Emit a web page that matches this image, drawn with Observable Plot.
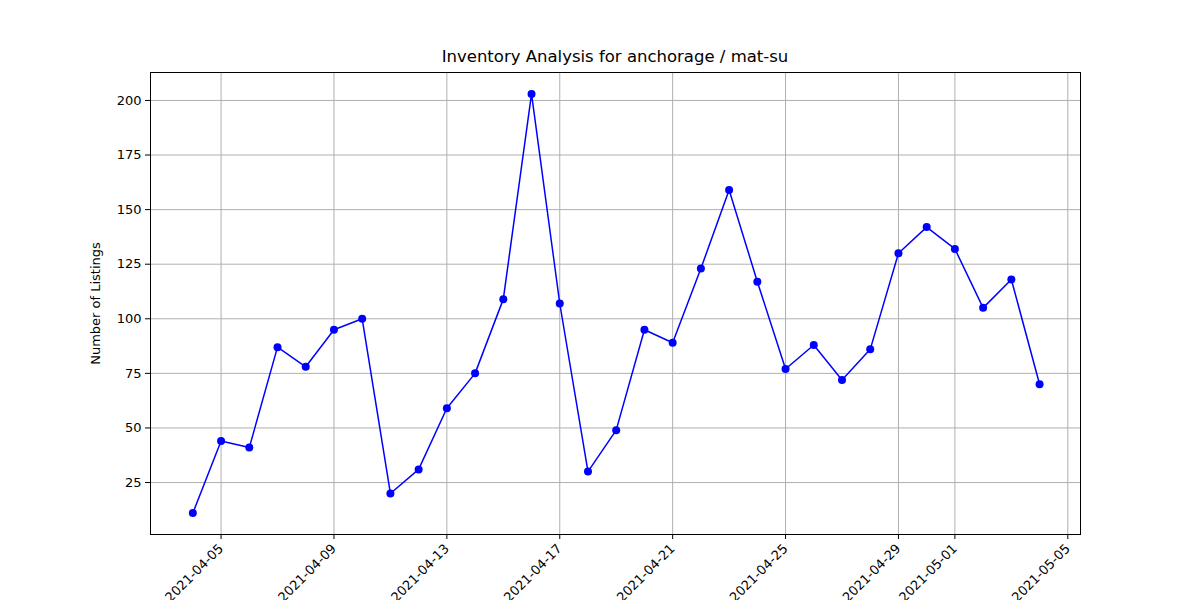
<!DOCTYPE html>
<html>
<head>
<meta charset="utf-8">
<script src="https://cdn.jsdelivr.net/npm/d3@7"></script>
<script src="https://cdn.jsdelivr.net/npm/@observablehq/plot@0.6"></script>
<style>
  body { margin: 0; background: #fff; font-family: "DejaVu Sans", sans-serif; }
  #title { width: 1230px; height: 71px; box-sizing: border-box; padding-top: 48px; text-align: center; font-size: 16px; color: #000; }
  #title span { display: inline-block; width: 930px; margin-left: 0; }
</style>
</head>
<body>
<div style="position:relative;width:1200px;height:71px;">
  <div style="position:absolute;left:150px;width:930px;top:47px;text-align:center;font-size:16.5px;">Inventory Analysis for anchorage / mat-su</div>
</div>
<div id="chart-container"></div>
<script>
// daily listings counts, 2021-04-04 .. 2021-05-04
const startDay = "2021-04-04";
const listings = [11, 44, 41, 87, 78, 95, 100, 20, 31, 59, 75, 109, 203, 107, 30, 49,
  95, 89, 123, 159, 117, 77, 88, 72, 86, 130, 142, 132, 105, 118, 70];
const tickDates = ["2021-04-05", "2021-04-09", "2021-04-13", "2021-04-17", "2021-04-21",
  "2021-04-25", "2021-04-29", "2021-05-01", "2021-05-05"];
const yTicks = [25, 50, 75, 100, 125, 150, 175, 200];

const t0 = new Date(startDay + "T00:00:00Z");
const dataset = listings.map((v, i) => ({date: d3.utcDay.offset(t0, i), value: v}));
const day = 864e5;

const plot = Plot.plot({
  width: 1200,
  height: 529,
  marginTop: 1,
  marginLeft: 150,
  marginRight: 120,
  marginBottom: 66,
  style: {fontFamily: "DejaVu Sans, sans-serif", fontSize: "13px", color: "#000"},
  x: {
    type: "utc",
    domain: [new Date(+t0 - 1.5 * day), new Date(+t0 + 31.45 * day)],
    ticks: tickDates.map(d => new Date(d + "T00:00:00Z")),
    tickFormat: d3.utcFormat("%Y-%m-%d"),
    tickRotate: -45,
    tickSize: 5,
    label: null
  },
  y: {
    domain: [1.2, 212.8],
    ticks: yTicks,
    tickSize: 5,
    label: "Number of Listings",
    labelAnchor: "center",
    labelArrow: "none",
    labelOffset: 60
  },
  marks: [
    Plot.gridX(tickDates.map(d => new Date(d + "T00:00:00Z")), {stroke: "#b0b0b0", strokeOpacity: 1}),
    Plot.gridY(yTicks, {stroke: "#b0b0b0", strokeOpacity: 1}),
    Plot.frame({stroke: "#000"}),
    Plot.line(dataset, {x: "date", y: "value", stroke: "blue", strokeWidth: 1.5}),
    Plot.dot(dataset, {x: "date", y: "value", r: 4, fill: "blue"})
  ]
});

document.getElementById('chart-container').appendChild(plot);
</script>
</body>
</html>
